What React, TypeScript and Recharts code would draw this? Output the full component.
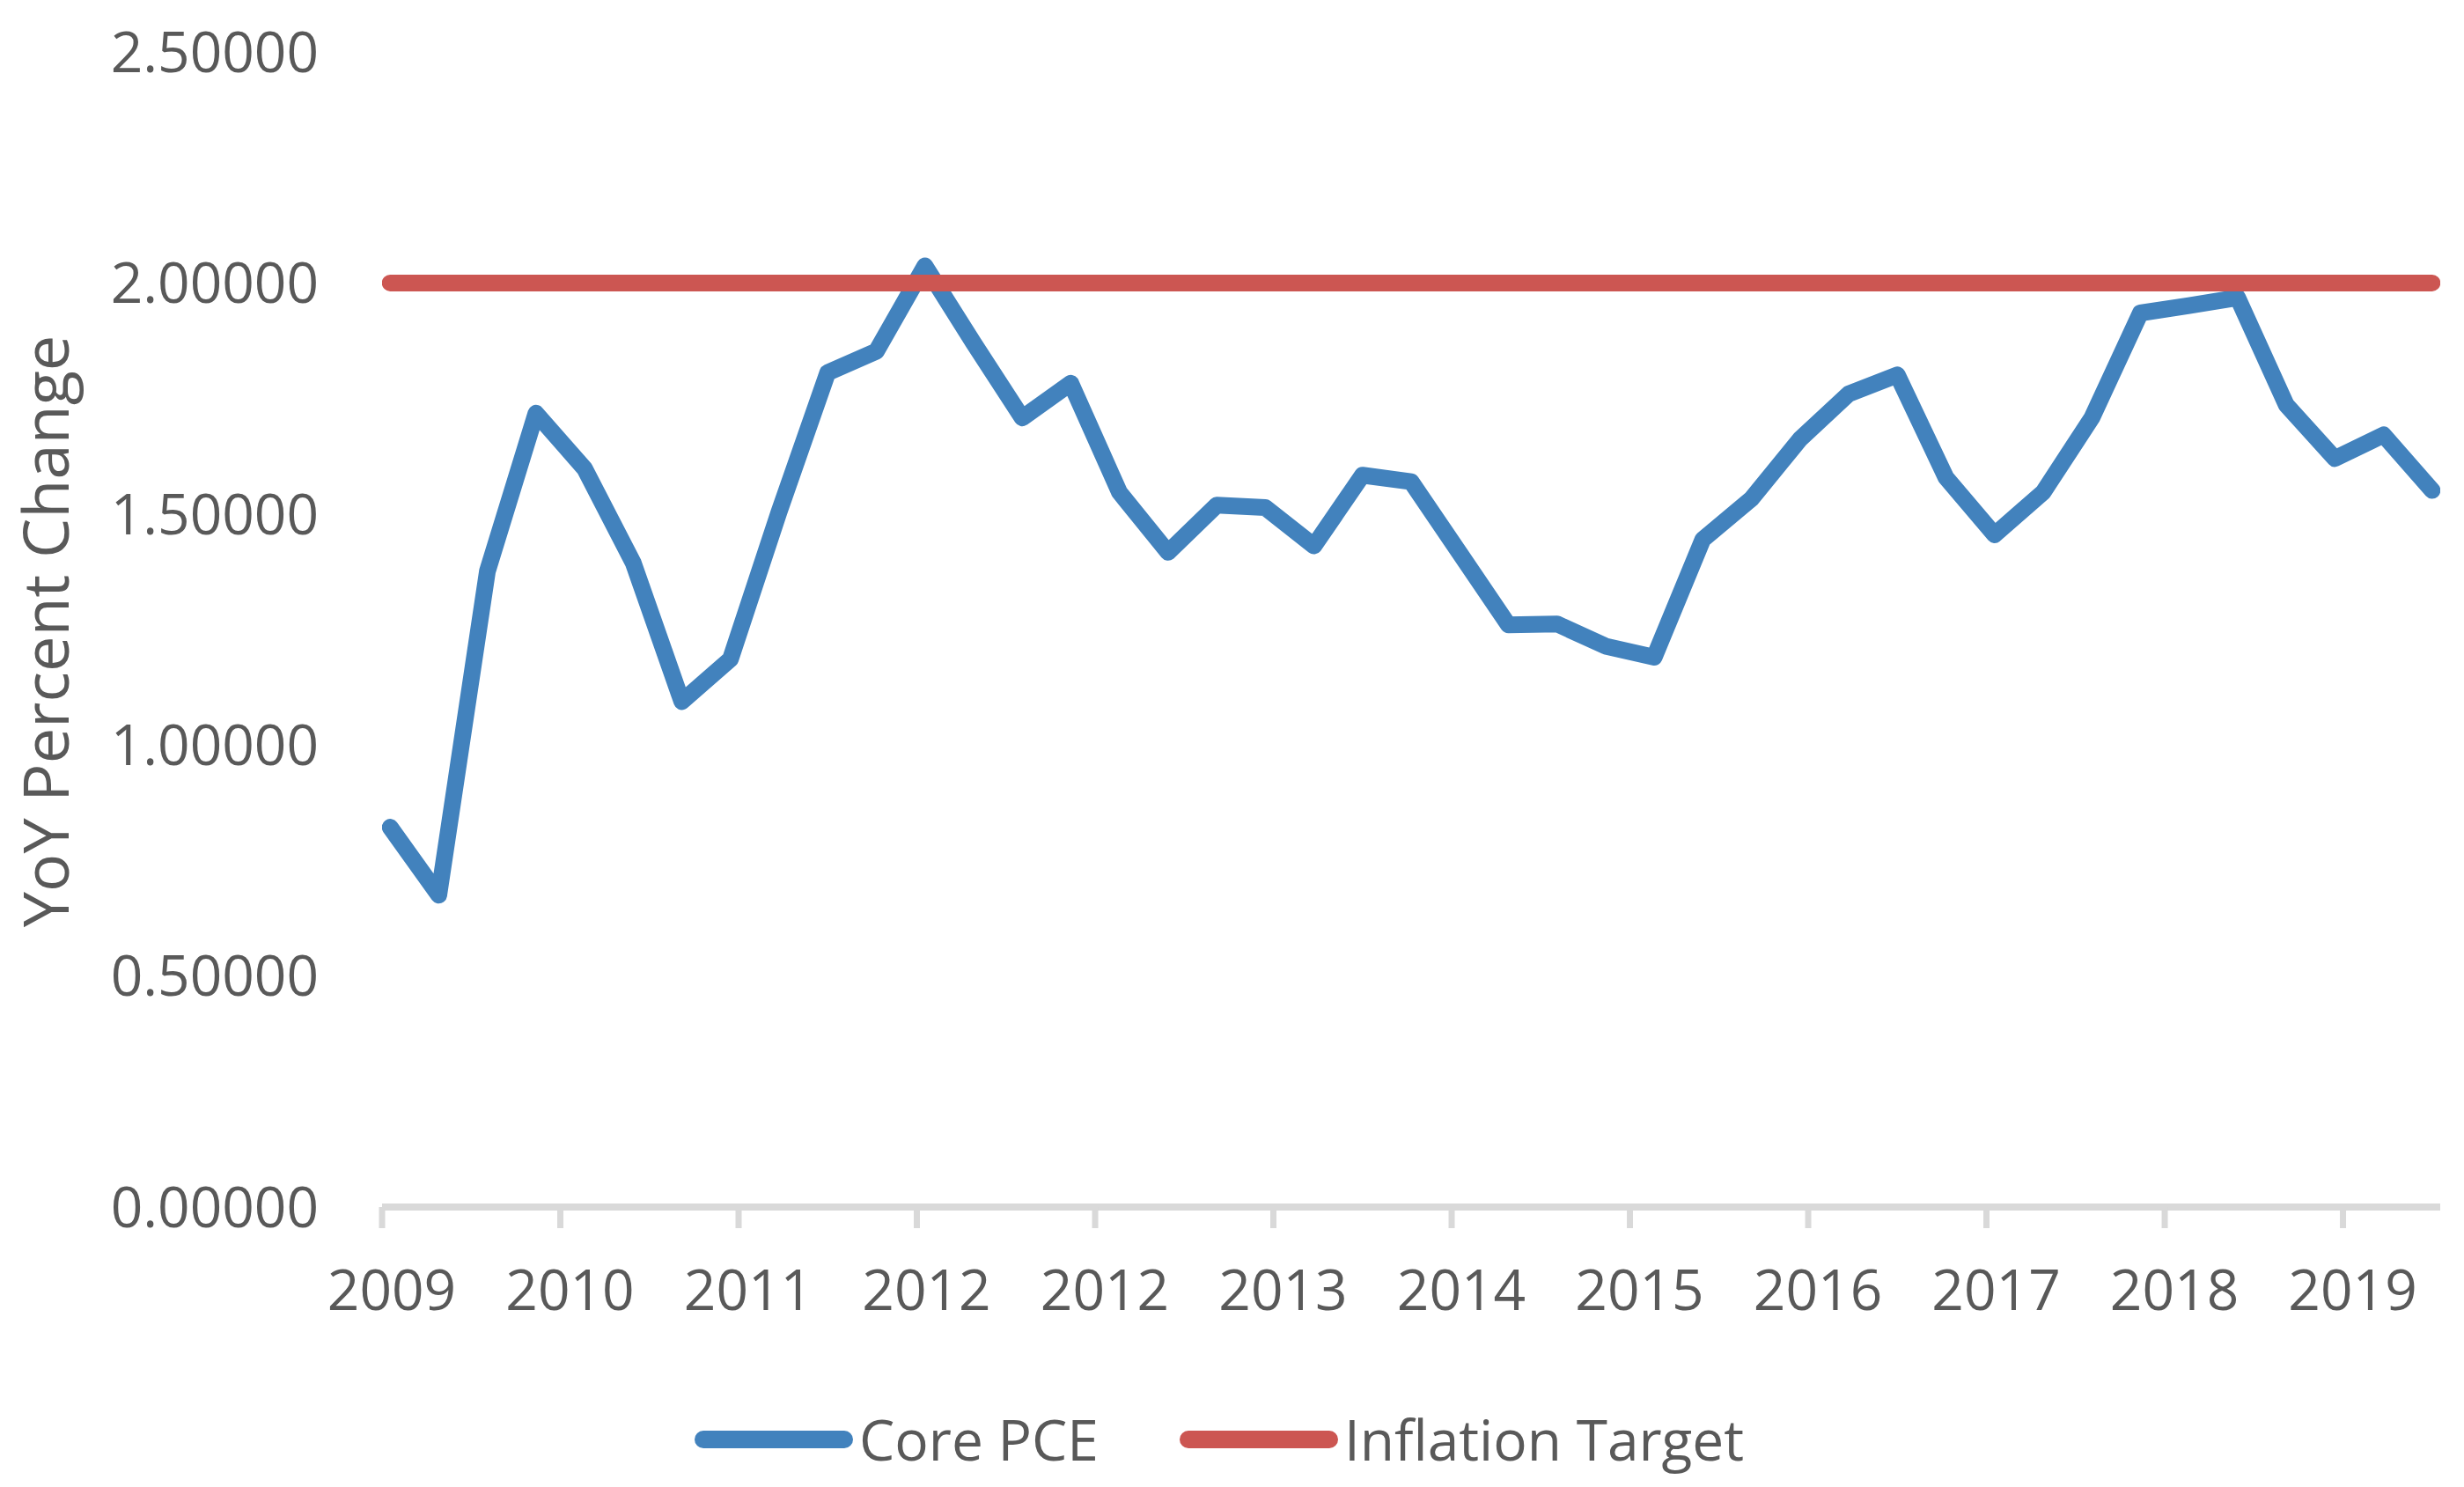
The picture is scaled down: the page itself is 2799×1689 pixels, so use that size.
import React from 'react';
import { LineChart, Line, XAxis, YAxis, Legend, Label } from 'recharts';

const quarters = [
  '2009Q1', '2009Q2', '2009Q3', '2009Q4',
  '2010Q1', '2010Q2', '2010Q3', '2010Q4',
  '2011Q1', '2011Q2', '2011Q3', '2011Q4',
  '2012Q1', '2012Q2', '2012Q3', '2012Q4',
  '2013Q1', '2013Q2', '2013Q3', '2013Q4',
  '2014Q1', '2014Q2', '2014Q3', '2014Q4',
  '2015Q1', '2015Q2', '2015Q3', '2015Q4',
  '2016Q1', '2016Q2', '2016Q3', '2016Q4',
  '2017Q1', '2017Q2', '2017Q3', '2017Q4',
  '2018Q1', '2018Q2', '2018Q3', '2018Q4',
  '2019Q1', '2019Q2', '2019Q3',
];

const corePce = [
  0.822, 0.675, 1.376, 1.718, 1.598, 1.394, 1.094, 1.186, 1.505, 1.806, 1.852,
  2.037, 1.87, 1.708, 1.783, 1.547, 1.417, 1.519, 1.514, 1.431, 1.584, 1.57,
  1.415, 1.26, 1.262, 1.214, 1.19, 1.445, 1.533, 1.662, 1.76, 1.801, 1.579,
  1.455, 1.547, 1.708, 1.935, 1.951, 1.968, 1.736, 1.62, 1.671, 1.551,
];

const inflationTarget = quarters.map(() => 2.0);

// months since Jan 2009 for each quarter
const monthOffsets = quarters.map((_, i) => i * 3);

const xTickValues = [-0.5, 10.5, 21.5, 32.5, 43.5, 54.5, 65.5, 76.5, 87.5, 98.5, 109.5, 120.5];
const xTickLabels = ['2009', '2010', '2011', '2012', '2012', '2013', '2014', '2015', '2016', '2017', '2018', '2019'];
const yTickValues = [0, 0.5, 1.0, 1.5, 2.0, 2.5];

const data = quarters.map((q, i) => ({
  quarter: q,
  m: monthOffsets[i],
  core: corePce[i],
  target: inflationTarget[i],
}));

const FONT = '"Open Sans", sans-serif';
const TEXT = '#595959';
const BLUE = '#4282bd';
const RED = '#cc5652';
const AXIS = '#d9d9d9';

const YTitle = () => (
  <text
    transform="translate(78, 717) rotate(-90)"
    x={0}
    y={0}
    textAnchor="middle"
    fontFamily={FONT}
    fontSize={72}
    fill={TEXT}
  >
    YoY Percent Change
  </text>
);

const LegendContent = (props: any) => {
  const payload = props.payload || [];
  return (
    <div
      style={{
        display: 'flex',
        alignItems: 'center',
        fontFamily: FONT,
        fontSize: 64,
        color: TEXT,
        whiteSpace: 'nowrap',
        lineHeight: '100px',
      }}
    >
      {payload.map((p: any, i: number) => (
        <div
          key={p.value}
          style={{ display: 'flex', alignItems: 'center', marginRight: i < payload.length - 1 ? 92 : 0 }}
        >
          <svg width={180} height={20} style={{ display: 'block' }}>
            <line x1={10} y1={10} x2={170} y2={10} stroke={p.color} strokeWidth={20} strokeLinecap="round" />
          </svg>
          <span style={{ marginLeft: 7 }}>{p.value}</span>
        </div>
      ))}
    </div>
  );
};

export default function App() {
  return (
    <div style={{ fontFamily: FONT, margin: '-8px 0 0 -8px', width: 2799, height: 1689 }}>
      <LineChart
        width={2799}
        height={1689}
        data={data}
        margin={{ top: 59, right: 27, bottom: 198, left: 0 }}
      >
        <XAxis
          type="number"
          dataKey="m"
          domain={[-0.5, 126.5]}
          ticks={xTickValues}
          interval={0}
          tickFormatter={(_v: any, i: number) => xTickLabels[i]}
          height={120}
          axisLine={{ stroke: AXIS, strokeWidth: 8 }}
          tickLine={{ stroke: AXIS, strokeWidth: 7 }}
          tickSize={24}
          tickMargin={48}
          tick={{ fill: TEXT, fontSize: 64, fontFamily: FONT, dx: 11 }}
          allowDataOverflow
        />
        <YAxis
          type="number"
          domain={[0, 2.5]}
          ticks={yTickValues}
          interval={0}
          width={434}
          axisLine={false}
          tickLine={false}
          tickSize={0}
          tickMargin={72}
          tickFormatter={(v: number) => v.toFixed(5)}
          tick={{ fill: TEXT, fontSize: 64, fontFamily: FONT }}
        >
          <Label content={YTitle} />
        </YAxis>
        <Legend
          layout="horizontal"
          verticalAlign="middle"
          align="center"
          content={LegendContent}
          wrapperStyle={{ left: 789, top: 1585, width: 1500, height: 100 }}
        />
        <Line
          type="linear"
          dataKey="core"
          name="Core PCE"
          stroke={BLUE}
          strokeWidth={19}
          strokeLinecap="round"
          strokeLinejoin="round"
          dot={false}
          activeDot={false}
          isAnimationActive={false}
        />
        <Line
          type="linear"
          dataKey="target"
          name="Inflation Target"
          stroke={RED}
          strokeWidth={19}
          strokeLinecap="round"
          strokeLinejoin="round"
          dot={false}
          activeDot={false}
          isAnimationActive={false}
        />
      </LineChart>
    </div>
  );
}
